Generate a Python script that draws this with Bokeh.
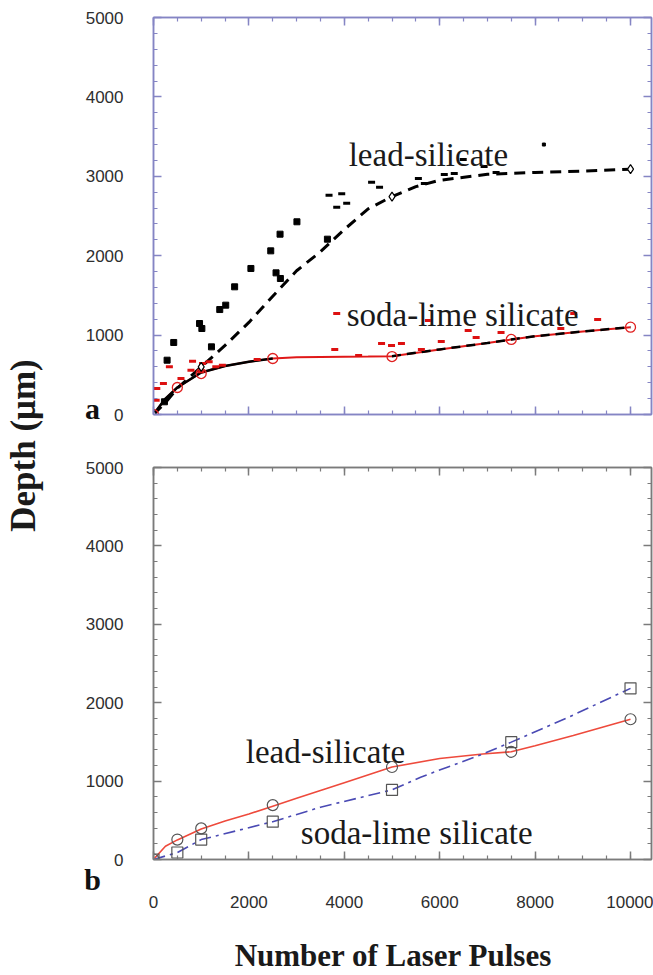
import math
from bokeh.plotting import figure
from bokeh.models import Range1d, LinearAxis, SingleIntervalTicker, Label
from bokeh.layouts import row, column
from bokeh.embed import file_html
from bokeh.resources import INLINE

# ---------------- data: panel a ----------------
lead_fit_x = [0, 250, 500, 1000, 1500, 2000, 2500, 3000, 3500, 4000, 4500, 5000, 5500, 6000, 7000, 8000, 9000, 10000]
lead_fit_y = [0, 150, 330, 600, 870, 1160, 1490, 1810, 2050, 2330, 2590, 2745, 2870, 2950, 3025, 3048, 3065, 3090]
lead_mark_x = [0, 1000, 5000, 10000]
lead_mark_y = [0, 600, 2745, 3090]

soda_fit_x = [0, 250, 500, 1000, 1500, 2000, 2500, 3000, 3500, 4000, 4500, 5000, 6000, 7000, 7500, 8000, 9000, 10000]
soda_fit_y = [0, 200, 340, 530, 610, 665, 705, 720, 725, 728, 730, 735, 820, 900, 945, 985, 1045, 1100]
soda_mark_x = [0, 500, 1000, 2500, 5000, 7500, 10000]
soda_mark_y = [0, 340, 516, 705, 730, 945, 1100]

lead_sq_x = [229, 285, 424, 965, 1014, 1215, 1389, 1514, 1701, 2042, 2458, 2569, 2653, 2660, 3007, 3646]
lead_sq_y = [160, 684, 907, 1146, 1083, 852, 1322, 1377, 1608, 1839, 2061, 1784, 2271, 1713, 2427, 2208]
lead_dot_x = [8184]
lead_dot_y = [3400]
lead_dash_x = [3680, 3946, 3841, 4050, 4572, 4739, 5553, 5678, 6096, 6305, 6493, 6931, 7182]
lead_dash_y = [2760, 2779, 2611, 2661, 2926, 2863, 2972, 2909, 3023, 3035, 3211, 3123, 3048]

soda_pts_x = [56, 69, 208, 333, 576, 785, 819, 993, 1028, 1167, 1306, 1444, 2174, 3800, 3841, 4300,
              4781, 4990, 5198, 5616, 5762, 6033, 6597, 6764, 7286, 8539, 8810, 9311]
soda_pts_y = [181, 327, 390, 600, 453, 558, 672, 537, 642, 663, 600, 621, 693, 818, 1272, 743,
              894, 869, 894, 818, 1184, 919, 1058, 970, 1033, 1083, 1272, 1196]

# ---------------- data: panel b ----------------
b_mark_x = [0, 500, 1000, 2500, 5000, 7500, 10000]
b_lead_y = [0, 254, 397, 694, 1180, 1374, 1789]
b_soda_y = [0, 89, 254, 482, 888, 1497, 2183]

b_lead_curve_x = [0, 250, 500, 1000, 1500, 2000, 2500, 3000, 3500, 4000, 5000, 6000, 6900, 7500, 8000, 8800, 10000]
b_lead_curve_y = [0, 170, 250, 390, 490, 580, 680, 780, 880, 980, 1180, 1288, 1345, 1374, 1450, 1582, 1789]
b_soda_curve_x = [0, 500, 1000, 2500, 3500, 5000, 5600, 6900, 7500, 8700, 10000]
b_soda_curve_y = [0, 89, 254, 482, 667, 888, 1050, 1345, 1497, 1815, 2183]

x_ticks_major = 2000
y_ticks_major = 1000

TOP_C = "#8585c4"
BOT_C = "#7b7b7b"
SERIF = "Liberation Serif"
SANS = "Liberation Sans"


def add_axes(p, color, labels_left, labels_below):
    axes = {}
    for side in ("left", "right", "above", "below"):
        if side in ("left", "right"):
            ax = LinearAxis(ticker=SingleIntervalTicker(interval=y_ticks_major, num_minor_ticks=5))
            show = labels_left and side == "left"
        else:
            ax = LinearAxis(ticker=SingleIntervalTicker(interval=x_ticks_major, num_minor_ticks=4))
            show = labels_below and side == "below"
        ax.axis_line_color = color
        ax.axis_line_width = 1.5
        ax.major_tick_line_color = color
        ax.minor_tick_line_color = color
        ax.major_tick_line_width = 1.5
        ax.minor_tick_line_width = 1.2
        ax.major_tick_in = 8
        ax.major_tick_out = 0
        ax.minor_tick_in = 4
        ax.minor_tick_out = 0
        ax.major_label_text_font = SANS
        if show:
            ax.major_label_text_color = "#2e2e2e"
            ax.major_label_text_font_size = "17px"
            ax.major_label_standoff = 30 if side == "left" else 36
        else:
            ax.major_label_text_color = None
            ax.major_label_text_font_size = "0px"
            ax.major_label_standoff = 0
        p.add_layout(ax, side)
        axes[side] = ax
    p.outline_line_color = color
    p.outline_line_width = 1.5
    p.grid.visible = False
    return axes


# ---------------- panel a ----------------
pa = figure(width=595, height=440, x_range=Range1d(0, 10440), y_range=Range1d(0, 5000),
            x_axis_location=None, y_axis_location=None,
            min_border_left=93, min_border_right=2, min_border_top=17, min_border_bottom=26,
            output_backend="svg", toolbar_location=None)
add_axes(pa, TOP_C, True, False)

pa.line(soda_fit_x, soda_fit_y, line_color="#e01818", line_width=2)
pa.line(soda_fit_x[:7], soda_fit_y[:7], line_color="black", line_width=2.5)
pa.line(soda_fit_x[11:], soda_fit_y[11:], line_color="black", line_width=2.5, line_dash="9 6")
pa.line(lead_fit_x, lead_fit_y, line_color="black", line_width=3, line_dash="11 7")
pa.scatter(lead_sq_x, lead_sq_y, marker="square", size=6, fill_color="black", line_color="black")
pa.scatter(lead_dot_x, lead_dot_y, marker="square", size=3, fill_color="black", line_color="black")
pa.scatter(lead_dash_x, lead_dash_y, marker="dash", size=7, line_color="black", line_width=3)
pa.scatter(soda_pts_x, soda_pts_y, marker="dash", size=7, line_color="#dd1010", line_width=3)
pa.scatter(soda_mark_x, soda_mark_y, marker="circle", size=10, fill_color=None, line_color="#e02020", line_width=1.3)
pa.scatter(lead_mark_x, lead_mark_y, marker="diamond", size=9, fill_color="white", line_color="black", line_width=1.2)

pa.add_layout(Label(x=4092, y=3262, text="lead-silicate", text_font=SERIF, text_font_size="33px",
                    text_color="#1a1a1a", text_baseline="alphabetic"))
pa.add_layout(Label(x=4050, y=1247, text="soda-lime silicate", text_font=SERIF, text_font_size="33px",
                    text_color="#1a1a1a", text_baseline="alphabetic"))
# placed in a side panel so that it is not clipped to the frame
pa.add_layout(Label(x=34, y=408, x_units="canvas", y_units="canvas", text="a", text_font=SERIF,
                    text_font_size="30px", text_font_style="bold", text_color="#111111",
                    text_align="center", text_baseline="alphabetic"), "left")

# ---------------- panel b ----------------
pb = figure(width=595, height=535, x_range=Range1d(0, 10440), y_range=Range1d(0, 5000),
            x_axis_location=None, y_axis_location=None,
            min_border_left=95, min_border_right=2, min_border_top=27, min_border_bottom=116,
            output_backend="svg", toolbar_location=None)
axb = add_axes(pb, BOT_C, True, True)

pb.line(b_lead_curve_x, b_lead_curve_y, line_color="#ee4a3c", line_width=1.6)
pb.line(b_soda_curve_x, b_soda_curve_y, line_color="#4a4ab4", line_width=1.6, line_dash="12 5 3 5")
pb.scatter(b_mark_x, b_lead_y, marker="circle", size=11, fill_color=None, line_color="#555555", line_width=1.2)
pb.scatter(b_mark_x, b_soda_y, marker="square", size=11, fill_color=None, line_color="#555555", line_width=1.2)

pb.add_layout(Label(x=1935, y=1365, text="lead-silicate", text_font=SERIF, text_font_size="33px",
                    text_color="#1a1a1a", text_baseline="alphabetic"))
pb.add_layout(Label(x=3088, y=332, text="soda-lime silicate", text_font=SERIF, text_font_size="33px",
                    text_color="#1a1a1a", text_baseline="alphabetic"))
pb.add_layout(Label(x=34, y=439, x_units="canvas", y_units="canvas", text="b", text_font=SERIF,
                    text_font_size="30px", text_font_style="bold", text_color="#111111",
                    text_align="center", text_baseline="alphabetic"), "left")
pb.add_layout(Label(x=335, y=515, x_units="canvas", y_units="canvas", text="Number of Laser Pulses",
                    text_font=SERIF, text_font_size="31px", text_font_style="bold", text_color="#1a1a1a",
                    text_align="center", text_baseline="alphabetic"), "below")

# ---------------- left strip with shared y title ----------------
pl = figure(width=58, height=975, x_range=Range1d(0, 1), y_range=Range1d(0, 1),
            x_axis_location=None, y_axis_location=None, min_border=0,
            output_backend="svg", toolbar_location=None)
pl.outline_line_color = None
pl.grid.visible = False
pl.add_layout(Label(x=0.39, y=0.5436, text="Depth (\u03bcm)", text_font=SERIF, text_font_size="35px",
                    text_font_style="bold", text_color="#1a1a1a", text_align="center",
                    text_baseline="middle", angle=math.pi / 2))

layout = row(pl, column(pa, pb, spacing=0), spacing=0)

open("out.html", "w").write(file_html(layout, INLINE))
